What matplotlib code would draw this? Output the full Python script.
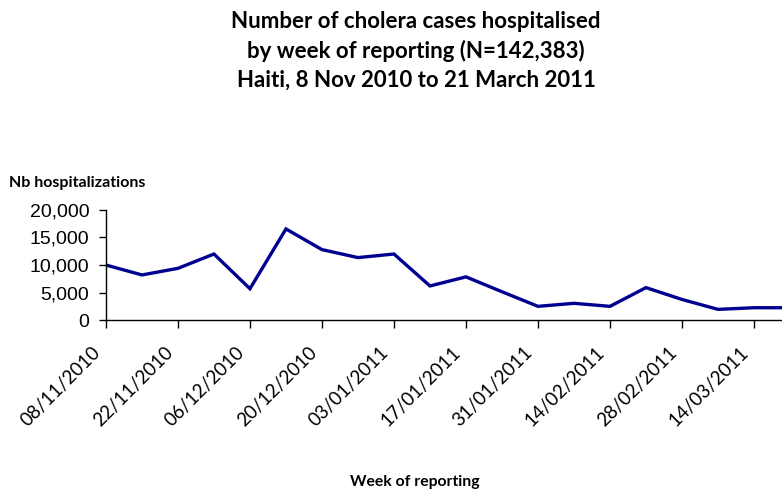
import matplotlib
matplotlib.use("Agg")
import matplotlib.pyplot as plt
import matplotlib.transforms as mtransforms
from matplotlib.ticker import FuncFormatter

# weekly hospitalised cholera cases, Haiti
weeks = ["08/11/2010", "15/11/2010", "22/11/2010", "29/11/2010", "06/12/2010",
         "13/12/2010", "20/12/2010", "27/12/2010", "03/01/2011", "10/01/2011",
         "17/01/2011", "24/01/2011", "31/01/2011", "07/02/2011", "14/02/2011",
         "21/02/2011", "28/02/2011", "07/03/2011", "14/03/2011", "21/03/2011"]
cases = [10000, 8200, 9400, 12000, 5700, 16550, 12800, 11350, 12000, 6200,
         7850, 5150, 2500, 3050, 2500, 5900, 3750, 1950, 2250, 2250]
yticks = [0, 5000, 10000, 15000, 20000]

fig = plt.figure(figsize=(7.82, 4.94), dpi=100)
ax = fig.add_axes([0.1355, 0.352, 0.8747, 0.223])

x = list(range(len(weeks)))
ax.plot(x, cases, color="#000090", lw=2.4, solid_joinstyle="miter")

ax.set_xlim(0, len(weeks) - 1)
ax.set_ylim(0, 20000)
ax.set_yticks(yticks)
ax.yaxis.set_major_formatter(FuncFormatter(lambda v, p: f"{int(v):,}"))
for lab in ax.get_yticklabels():
    lab.set_fontfamily("Liberation Sans")
    lab.set_fontsize(14)

for s in ["top", "right"]:
    ax.spines[s].set_visible(False)
for s in ["left", "bottom"]:
    ax.spines[s].set_linewidth(1.0)
ax.tick_params(axis="x", length=6, width=1, pad=15)
ax.tick_params(axis="y", length=5, width=1, pad=7)

ax.set_xticks(x[::2])
ax.set_xticklabels(weeks[::2], rotation=45, ha="right", va="center",
                   rotation_mode="anchor", fontsize=13.5, family="Lato")
# nudge the slanted dates a little to the left of their ticks
shift = mtransforms.ScaledTranslation(-0.08, 0, fig.dpi_scale_trans)
for lab in ax.get_xticklabels():
    lab.set_transform(lab.get_transform() + shift)

fig.text(0.532, 0.978, "Number of cholera cases hospitalised\nby week of reporting (N=142,383)\nHaiti, 8 Nov 2010 to 21 March 2011",
         ha="center", va="top", fontsize=16, fontweight="bold", family="Lato",
         linespacing=1.45)
fig.text(0.012, 0.63, "Nb hospitalizations", ha="left", va="center",
         fontsize=11.5, fontweight="bold", family="Lato")
fig.text(0.531, 0.024, "Week of reporting", ha="center", va="center",
         fontsize=11.3, fontweight="bold", family="Lato")

fig.savefig("out.png", dpi=100)
